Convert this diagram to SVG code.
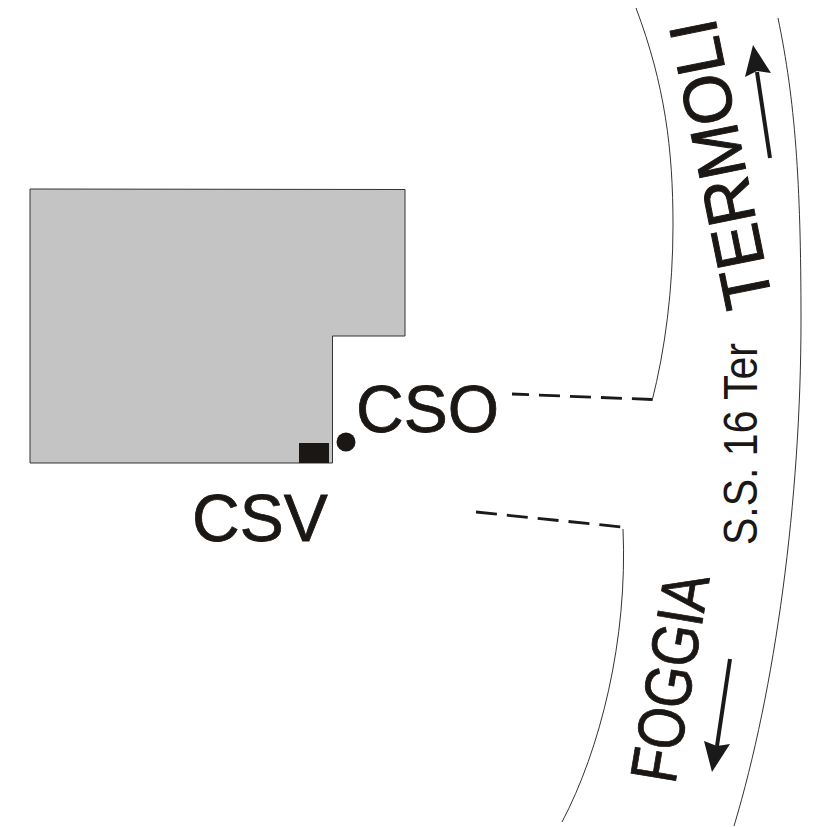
<svg xmlns="http://www.w3.org/2000/svg" width="827" height="827" viewBox="0 0 827 827">
<style>
.l{fill:none;stroke:#333;stroke-width:1}
.d{fill:none;stroke:#1a1a1a;stroke-width:2.800;stroke-dasharray:21 10}
.a{fill:none;stroke:#1a1a1a;stroke-width:4}
.h{fill:#1a1a1a;stroke:none}
text{font-family:"Liberation Sans",Arial,sans-serif;fill:#1a1714;stroke:#1a1714}
.b{stroke-width:.8}
.r{stroke-width:1}
.n{stroke:none}
</style>
<rect width="827" height="827" fill="#fff"/>
<g id="building">
<path d="M30 189 L405 189.500 L405 336 L332.500 336 L332.500 463 L30 463 Z" fill="#c4c4c4" stroke="#333" stroke-width="1"/>
<rect x="299" y="443" width="30" height="20" fill="#1a1714"/>
</g>
<g id="cso">
<circle cx="346" cy="442" r="9.500" fill="#1a1714"/>
<text class="b" x="356" y="432" font-size="66">CSO</text>
</g>
<g id="csv">
<text class="b" x="192" y="541" font-size="66">CSV</text>
</g>
<g id="connectors">
<path class="l" d="M636 8 C665 85 673 150 673 225 C673 290 665 350 652 401"/>
<path class="l" d="M778 18 C795 100 801 180 801 320 C801 500 775 690 734 826"/>
<path class="l" d="M623 529 C628 640 600 750 562 822"/>
<path class="d" stroke-dashoffset="4" d="M512 394 L652 399.500"/>
<path class="d" d="M476 512 L622 527"/>
<path class="a" d="M770 158 L757 72"/>
<path class="h" d="M753 45 L771 73 L757 71 L745 77 Z"/>
<path class="a" d="M730 659 L717 746"/>
<path class="h" d="M712 772 L704 741 L717 746 L730 744 Z"/>
</g>
<g id="labels">
<text class="r" transform="translate(773 303) rotate(-101.500)" font-size="68" textLength="293" lengthAdjust="spacingAndGlyphs">TERMOLI</text>
<text class="n" transform="translate(757 545) rotate(-90)" font-size="48" textLength="202" lengthAdjust="spacingAndGlyphs">S.S. 16 Ter</text>
<text class="b" transform="translate(675 785) rotate(-80.500)" font-size="66" textLength="210" lengthAdjust="spacingAndGlyphs">FOGGIA</text>
</g>
</svg>
